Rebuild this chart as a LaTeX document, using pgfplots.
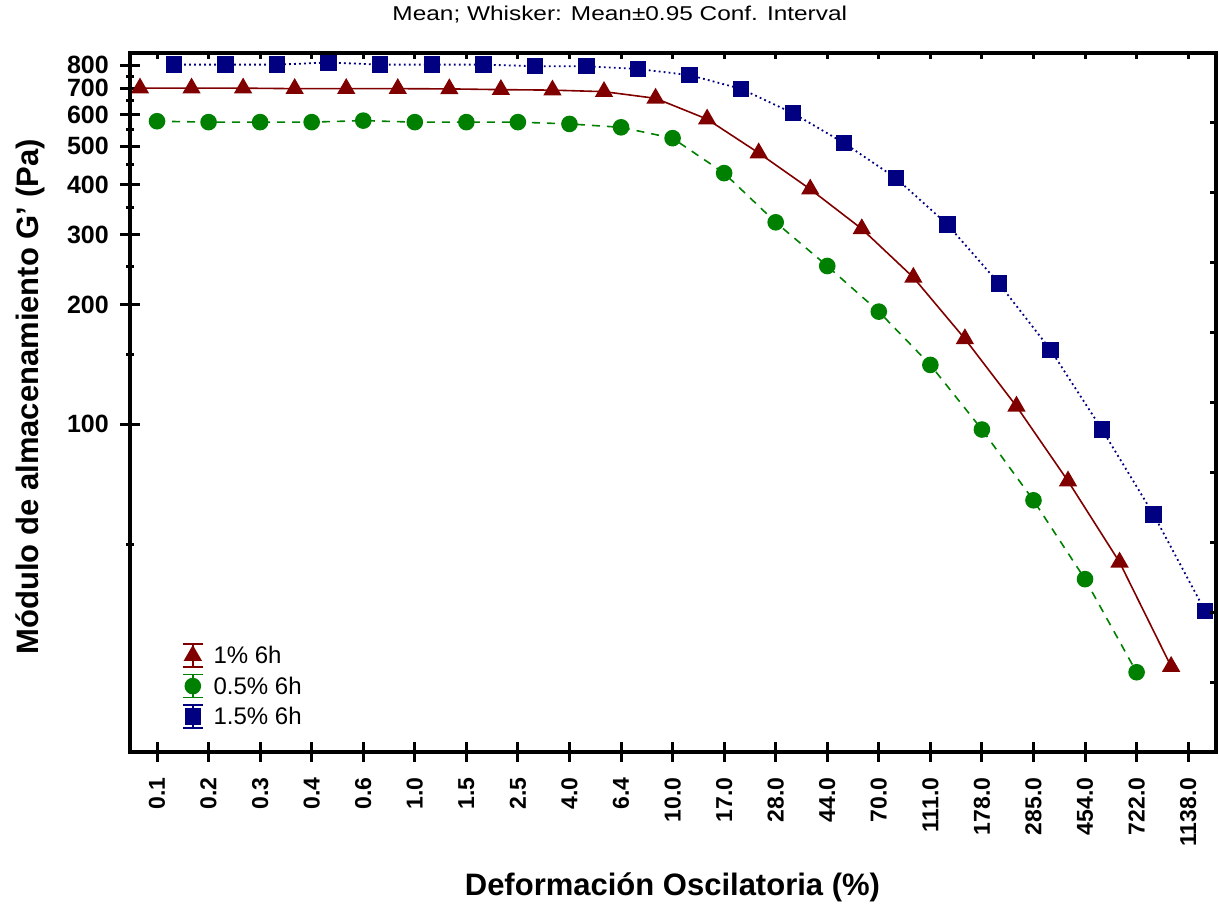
\documentclass[border=0pt]{standalone}
\usepackage{pgfplots}
\pgfplotsset{compat=1.18}
\usepackage{fontspec}
\setmainfont{Liberation Sans}
\definecolor{cred}{RGB}{128,0,0}
\definecolor{cgreen}{RGB}{0,128,0}
\definecolor{cblue}{RGB}{0,0,128}
\begin{document}
\begin{tikzpicture}
\begin{axis}[
  at={(0,0)}, anchor=south west,
  scale only axis, width=1086pt, height=699pt,
  xmin=-0.524, xmax=20.54,
  ymode=log, ymin=15, ymax=858,
  xtick={0,...,20},
  xticklabels={0.1,0.2,0.3,0.4,0.6,1.0,1.5,2.5,4.0,6.4,10.0,17.0,28.0,44.0,70.0,111.0,178.0,285.0,454.0,722.0,1138.0},
  ytick={100,200,300,400,500,600,700,800},
  yticklabels={100,200,300,400,500,600,700,800},
  minor ytick={50,150,250,350,450,550,650,750},
  xtick pos=left, ytick pos=left,
  tick align=center,
  major tick length=20pt, minor tick length=8pt,
  every tick/.style={black, line width=3pt},
  axis line style={line width=3.5pt},
  /pgf/number format/assume math mode=true,
  xticklabel shift=12pt,
  yticklabel shift=10pt,
  x tick label style={rotate=90, anchor=east, font=\fontsize{23}{25}\selectfont\bfseries},
  y tick label style={font=\fontsize{25}{27}\selectfont\bfseries, inner sep=1pt},
  title={Mean; Whisker: Mean\textpm 0.95 Conf. Interval},
  title style={at={(axis description cs:0.451,1)}, anchor=center, yshift=32pt, font=\fontsize{20}{22}\selectfont, xscale=1.22},
  xlabel={Deformación Oscilatoria (\%)},
  xlabel style={at={(axis description cs:0.4995,0)}, anchor=center, yshift=-135pt, font=\fontsize{31}{33}\selectfont\bfseries},
  ylabel={Módulo de almacenamiento G' (Pa)},
  ylabel style={at={(axis description cs:-0.0920,0.508)}, anchor=center, rotate=0, font=\fontsize{31}{33}\selectfont\bfseries},
  legend style={at={(axis description cs:0.045,0.03)}, anchor=south west, draw=none, fill=none,
    font=\fontsize{24}{26}\selectfont, row sep=6pt, cells={anchor=west},
    /tikz/every even column/.append style={column sep=0pt}},
  legend image code/.code={
    \draw[#1, solid, line width=1.5pt] (0pt,-11.5pt) -- (0pt,11.5pt) (-10pt,-11.5pt) -- (10pt,-11.5pt) (-10pt,11.5pt) -- (10pt,11.5pt);
    \draw[#1] plot coordinates {(0pt,0pt)};
  },
  legend cell align=left,
  clip=false,
]
\addplot[cred, solid, line width=1.6pt, mark=triangle*, mark size=9pt, mark options={solid}] coordinates {
(-0.33,700) (0.67,700) (1.67,700) (2.67,698) (3.67,698) (4.67,698) (5.67,697) (6.67,694) (7.67,692) (8.67,686)
(9.67,660) (10.67,585) (11.67,481) (12.67,390) (13.67,310) (14.67,234) (15.67,164) (16.67,111) (17.67,72) (18.67,45) (19.67,24.6)
};
\addlegendentry{\hspace{8pt}1\% 6h}
\addplot[cgreen, dashed, dash pattern=on 8pt off 7pt, line width=1.6pt, mark=*, mark size=7.5pt, mark options={solid}] coordinates {
(0,578) (1,575) (2,575) (3,575) (4,580) (5,575) (6,575) (7,575) (8,569) (9,558)
(10,524) (11,428) (12,322) (13,250) (14,192) (15,141) (16,97) (17,64.4) (18,40.8) (19,23.8)
};
\addlegendentry{\hspace{8pt}0.5\% 6h}
\addplot[cblue, dash pattern=on 1.8pt off 3.2pt, line width=1.8pt, mark=square*, mark size=7.3pt, mark options={solid}] coordinates {
(0.33,802) (1.33,802) (2.33,802) (3.33,812) (4.33,802) (5.33,802) (6.33,802) (7.33,795) (8.33,795) (9.33,782)
(10.33,755) (11.33,697) (12.33,606) (13.33,509) (14.33,416) (15.33,318) (16.33,226) (17.33,154) (18.33,97) (19.33,59.3) (20.33,33.9)
};
\addlegendentry{\hspace{8pt}1.5\% 6h}
\end{axis}
\begin{axis}[
  at={(0,0)}, anchor=south west,
  scale only axis, width=1086pt, height=699pt,
  xmin=-0.524, xmax=20.54, ymin=0, ymax=9.986,
  xtick={0,...,20}, ytick={1,...,9},
  xticklabels={}, yticklabels={},
  xtick pos=right, ytick pos=right,
  tick align=inside, major tick length=6pt,
  every tick/.style={black, line width=3pt},
  axis line style={line width=3.5pt},
]
\addplot[draw=none] coordinates {(0,0)};
\end{axis}
\pgfresetboundingbox
\useasboundingbox (-130pt,-159pt) rectangle (1089pt,752pt);
\end{tikzpicture}
\end{document}
